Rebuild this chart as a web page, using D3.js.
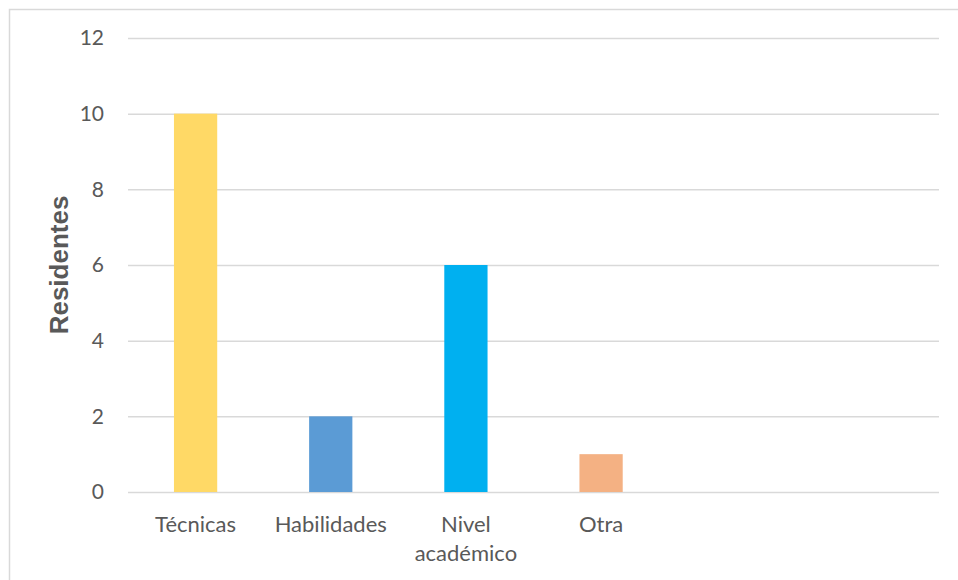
<!DOCTYPE html>
<html>
<head>
<meta charset="utf-8">
<script src="https://cdn.jsdelivr.net/npm/d3@7"></script>
<style>
  html, body { margin: 0; padding: 0; background: #fff; }
  svg { display: block; }
</style>
</head>
<body>
<svg id="chart" width="958" height="580"></svg>
<script>
// Category slots on the axis (the last two slots are empty)
const categories = ["Técnicas", "Habilidades", "Nivel académico", "Otra", "", ""];
const categoryLines = [["Técnicas"], ["Habilidades"], ["Nivel", "académico"], ["Otra"], [], []];
const values = [10, 2, 6, 1, null, null];
const barColors = ["#FFD966", "#5B9BD5", "#00B0F0", "#F4B183", null, null];
const yTicks = [0, 2, 4, 6, 8, 10, 12];
const yTitle = "Residentes";

const svg = d3.select("#chart");
const W = 958, H = 580;
const plot = { left: 128, right: 939, top: 38, bottom: 492 };

// Chart frame
svg.append("rect")
  .attr("x", 9.5).attr("y", 9.5)
  .attr("width", W).attr("height", H)
  .attr("fill", "none")
  .attr("stroke", "#d9d9d9")
  .attr("stroke-width", 1.5);

const x = d3.scaleBand()
  .domain(d3.range(categories.length))
  .range([plot.left, plot.right])
  .paddingInner(0.68)
  .paddingOuter(0.34);

const y = d3.scaleLinear()
  .domain([0, 12])
  .range([plot.bottom, plot.top]);

// Horizontal gridlines + tick labels
const yAxis = d3.axisLeft(y)
  .tickValues(yTicks)
  .tickSize(-(plot.right - plot.left))
  .tickPadding(24)
  .tickFormat(d3.format("d"));

const gy = svg.append("g")
  .attr("transform", `translate(${plot.left},0)`)
  .call(yAxis);
gy.select(".domain").remove();
gy.selectAll(".tick line")
  .attr("stroke", "#d9d9d9")
  .attr("stroke-width", 1.5);
gy.selectAll(".tick text")
  .attr("fill", "#595959")
  .style("font-family", "Lato, 'Open Sans', sans-serif")
  .style("font-size", "21px");

// Bars
svg.append("g")
  .selectAll("rect")
  .data(values.map((v, i) => ({ v, i })).filter(d => d.v != null))
  .join("rect")
  .attr("x", d => x(d.i))
  .attr("width", x.bandwidth())
  .attr("y", d => y(d.v))
  .attr("height", d => y(0) - y(d.v))
  .attr("fill", d => barColors[d.i]);

// Category labels (wrapped)
const gx = svg.append("g");
categoryLines.forEach((lines, i) => {
  const t = gx.append("text")
    .attr("x", x(i) + x.bandwidth() / 2)
    .attr("y", 532)
    .attr("text-anchor", "middle")
    .attr("fill", "#595959")
    .style("font-family", "Lato, 'Open Sans', sans-serif")
    .style("font-size", "22px");
  lines.forEach((line, k) => {
    t.append("tspan")
      .attr("x", x(i) + x.bandwidth() / 2)
      .attr("dy", k === 0 ? 0 : 29)
      .text(line);
  });
});

// Y axis title
svg.append("text")
  .attr("transform", `translate(68,${(plot.top + plot.bottom) / 2}) rotate(-90)`)
  .attr("text-anchor", "middle")
  .attr("fill", "#595959")
  .style("font-family", "'Liberation Sans', Arial, sans-serif")
  .style("font-weight", "bold")
  .style("font-size", "26px")
  .text(yTitle);
</script>
</body>
</html>
